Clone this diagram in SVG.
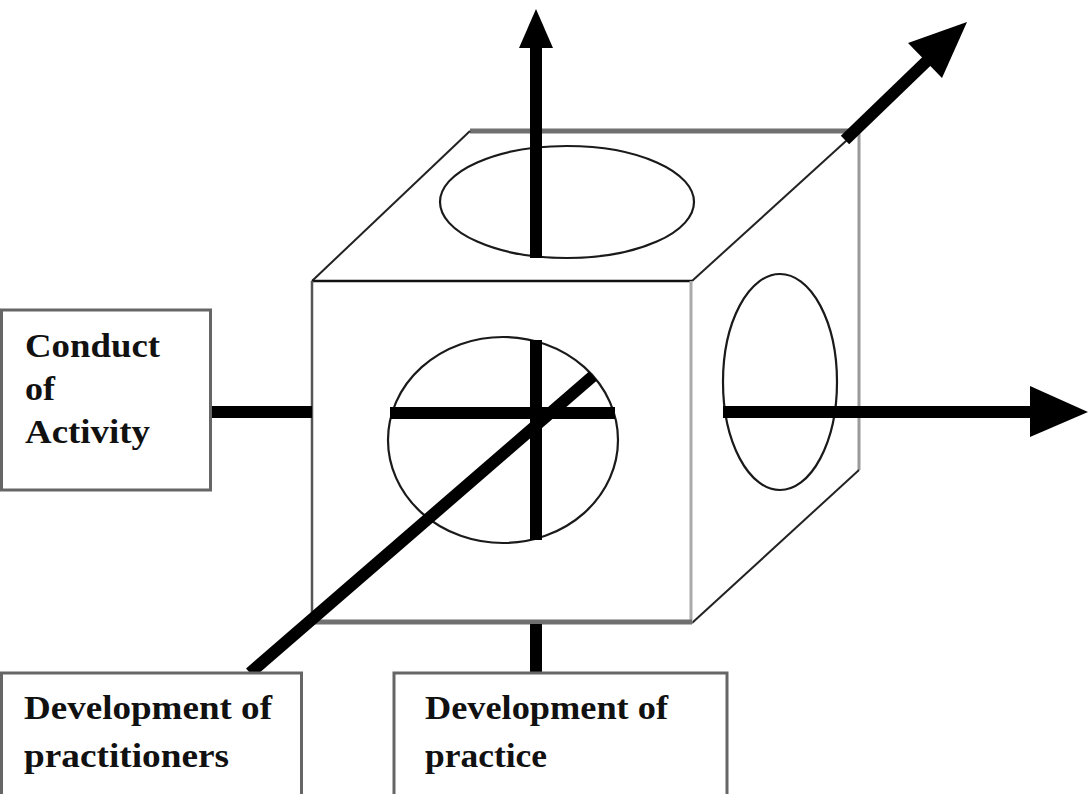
<svg xmlns="http://www.w3.org/2000/svg" width="1089" height="794" viewBox="0 0 1089 794">
<style>
.edge{fill:none;stroke:#222;stroke-width:2}
.ell{fill:none;stroke:#1a1a1a;stroke-width:2.2}
.thick{stroke:#000;stroke-width:12;stroke-linecap:butt;fill:none}
.box{fill:#fff;stroke:#666;stroke-width:3}
.lbl{font-family:"Liberation Serif","Times New Roman",serif;font-weight:bold;font-size:33px;fill:#111}
.head{fill:#000}
</style>
<rect width="1089" height="794" fill="#fff"/>
<g id="cube">
  <line x1="470" y1="131" x2="852" y2="131" stroke="#707070" stroke-width="5"/>
  <line x1="312" y1="281" x2="470" y2="131" class="edge"/>
  <line x1="692" y1="281" x2="857" y2="131" class="edge"/>
  <line x1="859" y1="133" x2="859" y2="470" stroke="#9a9a9a" stroke-width="3"/>
  <line x1="692" y1="623" x2="859" y2="470" class="edge"/>
  <rect x="312" y="281" width="380" height="342" fill="#fff" stroke="none"/>
  <line x1="312" y1="281" x2="692" y2="281" stroke="#111" stroke-width="2.5"/>
  <line x1="312" y1="281" x2="312" y2="623" stroke="#555" stroke-width="2.5"/>
  <line x1="691" y1="281" x2="691" y2="623" stroke="#aaa" stroke-width="3"/>
  <line x1="312" y1="622" x2="692" y2="622" stroke="#707070" stroke-width="5"/>
  <ellipse cx="567" cy="202" rx="127" ry="56" class="ell"/>
  <ellipse cx="780" cy="382" rx="57" ry="108" class="ell"/>
  <ellipse cx="503" cy="440" rx="115" ry="103" class="ell"/>
</g>
<g id="connectors">
  <line x1="536" y1="258" x2="536" y2="46" class="thick" stroke-width="10"/>
  <polygon class="head" points="519,48 536,9 553,48"/>
  <line x1="845" y1="140" x2="930" y2="58" class="thick"/>
  <polygon class="head" points="967,22 942,78 908,43"/>
  <line x1="723" y1="412" x2="1032" y2="412" class="thick"/>
  <polygon class="head" points="1030,386 1088,412 1030,437"/>
  <line x1="210" y1="412" x2="312" y2="412" class="thick"/>
  <line x1="390" y1="413" x2="615" y2="413" class="thick"/>
  <line x1="536" y1="340" x2="536" y2="540" class="thick" stroke-width="10"/>
  <line x1="536" y1="624" x2="536" y2="673" class="thick" stroke-width="11"/>
  <line x1="250" y1="673" x2="593" y2="376" class="thick"/>
</g>
<g id="conduct">
  <rect x="1.5" y="310" width="209" height="180" class="box"/>
  <text class="lbl" x="25" y="357" textLength="135" lengthAdjust="spacingAndGlyphs">Conduct</text>
  <text class="lbl" x="25" y="400" textLength="30" lengthAdjust="spacingAndGlyphs">of</text>
  <text class="lbl" x="25" y="443" textLength="125" lengthAdjust="spacingAndGlyphs">Activity</text>
</g>
<g id="practitioners">
  <rect x="1.5" y="673" width="300" height="125" class="box"/>
  <text class="lbl" x="24" y="719" textLength="248" lengthAdjust="spacingAndGlyphs">Development of</text>
  <text class="lbl" x="24" y="767" textLength="205" lengthAdjust="spacingAndGlyphs">practitioners</text>
</g>
<g id="practice">
  <rect x="394" y="673" width="333" height="125" class="box"/>
  <text class="lbl" x="425" y="719" textLength="243" lengthAdjust="spacingAndGlyphs">Development of</text>
  <text class="lbl" x="425" y="767" textLength="122" lengthAdjust="spacingAndGlyphs">practice</text>
</g>
</svg>
